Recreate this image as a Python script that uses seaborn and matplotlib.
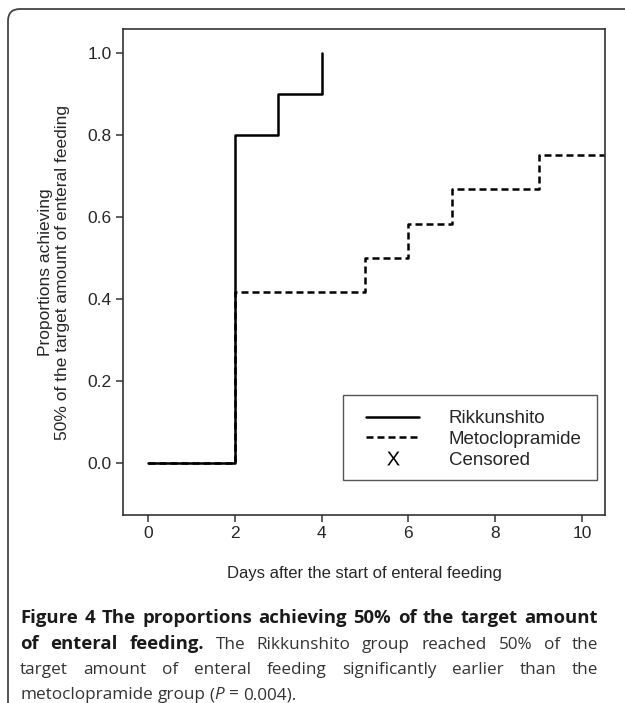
import matplotlib
matplotlib.use("Agg")
import matplotlib.pyplot as plt
import pandas as pd
import seaborn as sns
from matplotlib.lines import Line2D
from matplotlib.patches import FancyBboxPatch, Rectangle
from matplotlib.transforms import IdentityTransform

# cumulative proportions
rikkunshito_days = [0, 2, 3, 4]
rikkunshito_prop = [0.0, 0.8, 0.9, 1.0]
metoclopramide_days = [0, 2, 5, 6, 7, 9, 11]
metoclopramide_prop = [0.0, 0.417, 0.5, 0.583, 0.667, 0.75, 0.75]

x_ticks = [0, 2, 4, 6, 8, 10]
y_ticks = [0.0, 0.2, 0.4, 0.6, 0.8, 1.0]
legend_labels = ["Rikkunshito", "Metoclopramide", "Censored"]

caption_lines = [
    [("Figure 4 The proportions achieving 50% of the target amount", "bold", "normal")],
    [("of enteral feeding.", "bold", "normal"),
     (" The Rikkunshito group reached 50% of the", "normal", "normal")],
    [("target amount of enteral feeding significantly earlier than the", "normal", "normal")],
    [("metoclopramide group (", "normal", "normal"), ("P", "normal", "italic"),
     (" = 0.004).", "normal", "normal")],
]

df = pd.concat([
    pd.DataFrame({"day": metoclopramide_days, "prop": metoclopramide_prop,
                  "group": "Metoclopramide"}),
    pd.DataFrame({"day": rikkunshito_days, "prop": rikkunshito_prop,
                  "group": "Rikkunshito"}),
])

sns.set_style("white")
plt.rcParams["font.family"] = ["Liberation Sans", "DejaVu Sans"]
plt.rcParams["mathtext.default"] = "regular"

W, H = 625, 703
fig = plt.figure(figsize=(W / 100, H / 100), dpi=100)
ax = fig.add_axes([123 / W, 1 - 515 / H, (605 - 123) / W, (515 - 29) / H])

sns.lineplot(
    data=df, x="day", y="prop", style="group",
    style_order=["Metoclopramide", "Rikkunshito"],
    dashes={"Metoclopramide": (2.8, 1.6), "Rikkunshito": ""},
    color="black", linewidth=1.8, drawstyle="steps-post",
    estimator=None, legend=False, ax=ax,
)

ax.set_xlim(-0.576, 10.53)
ax.set_ylim(-0.127, 1.0585)
ax.set_xticks(x_ticks)
ax.set_yticks(y_ticks)
ax.set_yticklabels([f"{v:.1f}" for v in y_ticks])
ax.tick_params(axis="both", which="major", labelsize=12.5, length=5, width=1.1,
               color="#333333", direction="out", bottom=True, left=True, pad=3)
for s in ax.spines.values():
    s.set_color("#333333")
    s.set_linewidth(1.2)

ax.set_xlabel("Days after the start of enteral feeding", fontsize=12, labelpad=18)
ax.set_ylabel("Proportions achieving\n50% of the target amount of enteral feeding",
              fontsize=12.5, labelpad=13, linespacing=1.15)

# legend box drawn separately so its padding can match
ax.add_patch(Rectangle(((343 - 123) / 482, (515 - 480) / 486),
                       (597 - 343) / 482, (480 - 395) / 486,
                       transform=ax.transAxes, fill=False, edgecolor="#555555",
                       linewidth=1.0, zorder=5))
handles = [
    Line2D([], [], color="black", linewidth=1.8),
    Line2D([], [], color="black", linewidth=1.8, dashes=(2.8, 1.6)),
    Line2D([], [], color="black", linestyle="none", marker="$X$", markersize=10,
           markeredgewidth=0),
]
ax.legend(handles, legend_labels, loc="upper left",
          bbox_to_anchor=((366 - 123) / 482, (515 - 410) / 486),
          frameon=False, fontsize=13.5, handlelength=2.85, handletextpad=1.55,
          labelspacing=0.2, borderpad=0, borderaxespad=0)

# outer rounded border of the figure panel
fig.add_artist(FancyBboxPatch((8, -30), 660, H - 9 + 30,
                              boxstyle="round,pad=0,rounding_size=12",
                              transform=IdentityTransform(), fill=False,
                              edgecolor="#444444", linewidth=1.3))

# caption, justified like the journal layout
renderer = fig.canvas.get_renderer()
cap_family = ["Open Sans", "DejaVu Sans"]
cap_sizes = {"bold": 13.3, "normal": 12.3}


def piece_width(txt, weight, style):
    t = fig.text(0, 0, txt, fontsize=cap_sizes[weight], family=cap_family,
                 weight=weight, style=style, transform=IdentityTransform())
    w = t.get_window_extent(renderer).width
    t.remove()
    return w


def place_line(segments, x0, y, width=None):
    tokens = [[]]
    for txt, weight, style in segments:
        parts = txt.split(" ")
        for i, p in enumerate(parts):
            if i > 0:
                tokens.append([])
            if p:
                tokens[-1].append((p, weight, style))
    tokens = [t for t in tokens if t]
    widths = [[piece_width(*p) for p in tok] for tok in tokens]
    space = piece_width("x x", "normal", "normal") - piece_width("xx", "normal", "normal")
    if width is not None and len(tokens) > 1:
        gap = (width - sum(sum(w) for w in widths)) / (len(tokens) - 1)
    else:
        gap = space
    x = x0
    for tok, ws in zip(tokens, widths):
        for (p, weight, style), w in zip(tok, ws):
            color = "#1a1a1a" if weight == "bold" else "#333333"
            fig.text(x, y, p, fontsize=cap_sizes[weight], family=cap_family,
                     weight=weight, style=style, color=color, va="baseline",
                     ha="left", transform=IdentityTransform())
            x += w
        x += gap


baselines = [623, 649, 674, 699]
for i, (segs, yb) in enumerate(zip(caption_lines, baselines)):
    place_line(segs, 20, H - yb, width=578 if i < 3 else None)

fig.savefig("out.png", dpi=100)
